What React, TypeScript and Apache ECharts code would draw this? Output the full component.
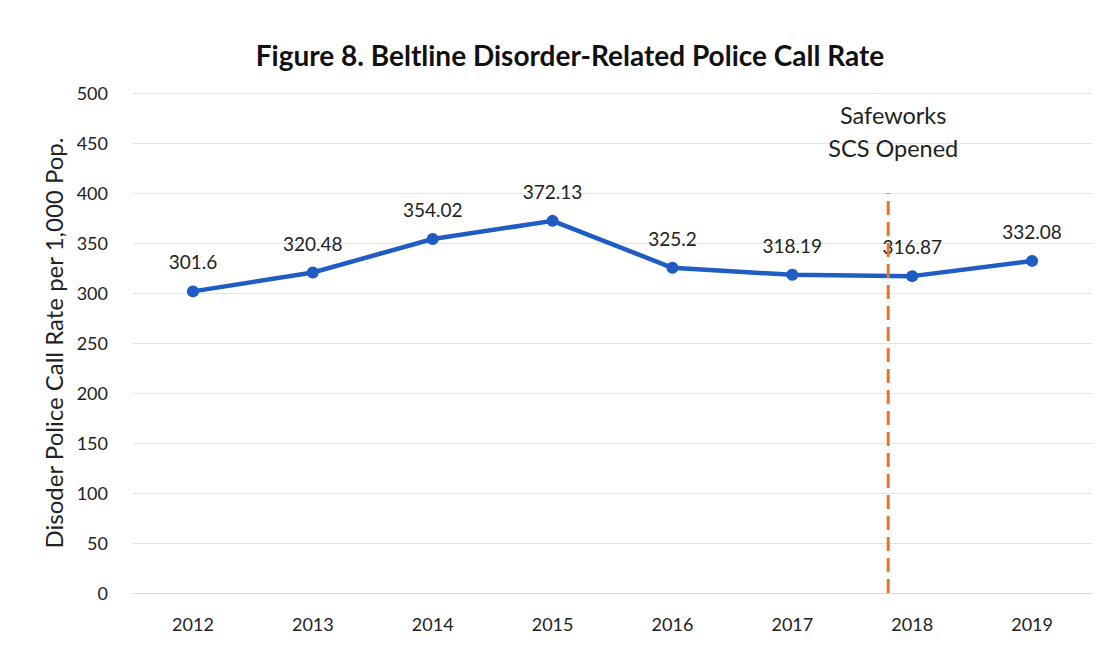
import React, { useEffect, useRef } from "react";
import * as echarts from "echarts";

const years = ["2012", "2013", "2014", "2015", "2016", "2017", "2018", "2019"];
const rates = [301.6, 320.48, 354.02, 372.13, 325.2, 318.19, 316.87, 332.08];
const yTicks = { min: 0, max: 500, interval: 50 };
const eventLabel = ["Safeworks", "SCS Opened"];
const eventPosition = 5.8; // category index position between 2017 and 2018
const eventTop = 400;

const FONT = "Lato, 'Open Sans', sans-serif";

export default function App() {
  const ref = useRef<HTMLDivElement>(null);
  useEffect(() => {
    if (!ref.current) return;
    const chart = echarts.init(ref.current, null, { renderer: "svg" });
    chart.setOption({
      animation: false,
      backgroundColor: "#ffffff",
      title: {
        text: "Figure 8. Beltline Disorder-Related Police Call Rate",
        left: 557,
        textAlign: "center",
        top: 28,
        textStyle: { fontFamily: FONT, fontSize: 28, fontWeight: "bold", color: "#111" },
      },
      grid: { left: 125, right: 8, top: 85, bottom: 49, containLabel: false },
      xAxis: {
        type: "category",
        data: years,
        boundaryGap: true,
        axisLine: { lineStyle: { color: "#d9d9d9", width: 1 } },
        axisTick: { show: false },
        axisLabel: { fontFamily: FONT, fontSize: 18, color: "#222", margin: 22 },
      },
      yAxis: {
        type: "value",
        min: yTicks.min,
        max: yTicks.max,
        interval: yTicks.interval,
        name: "Disoder Police Call Rate per 1,000 Pop.",
        nameLocation: "middle",
        nameGap: 62,
        nameTextStyle: { fontFamily: FONT, fontSize: 24, color: "#222" },
        axisLine: { show: false },
        axisTick: { show: false },
        splitLine: { lineStyle: { color: "#e3e3e3", width: 1 } },
        axisLabel: { fontFamily: FONT, fontSize: 18, color: "#222", margin: 25 },
      },
      series: [
        {
          type: "line",
          data: rates,
          symbol: "circle",
          symbolSize: 12,
          lineStyle: { color: "#1f5cc4", width: 4.5 },
          itemStyle: { color: "#1f5cc4" },
          label: {
            show: true,
            position: "top",
            distance: 14,
            fontFamily: FONT,
            fontSize: 19,
            color: "#222",
          },
        },
      ],
    });
    const p0 = chart.convertToPixel({ xAxisIndex: 0, yAxisIndex: 0 }, [Math.floor(eventPosition), 0]) as number[];
    const p1 = chart.convertToPixel({ xAxisIndex: 0, yAxisIndex: 0 }, [Math.ceil(eventPosition), eventTop]) as number[];
    const frac = eventPosition - Math.floor(eventPosition);
    const x = p0[0] + (p1[0] - p0[0]) * frac;
    chart.setOption({
      graphic: [
        {
          type: "line",
          shape: { x1: x, y1: p0[1], x2: x, y2: p1[1] },
          style: { stroke: "#e8742a", lineWidth: 3, lineDash: [14, 7] },
          z: 100,
        },
        {
          type: "text",
          x: x + 5,
          y: 123,
          style: {
            text: eventLabel.join("\n"),
            fontFamily: FONT,
            fontSize: 23.5,
            lineHeight: 33,
            fill: "#222",
            align: "center",
            verticalAlign: "middle",
          },
          z: 100,
        },
      ],
    });
    return () => chart.dispose();
  }, []);
  return <div ref={ref} style={{ width: 1092, height: 634 }} />;
}
